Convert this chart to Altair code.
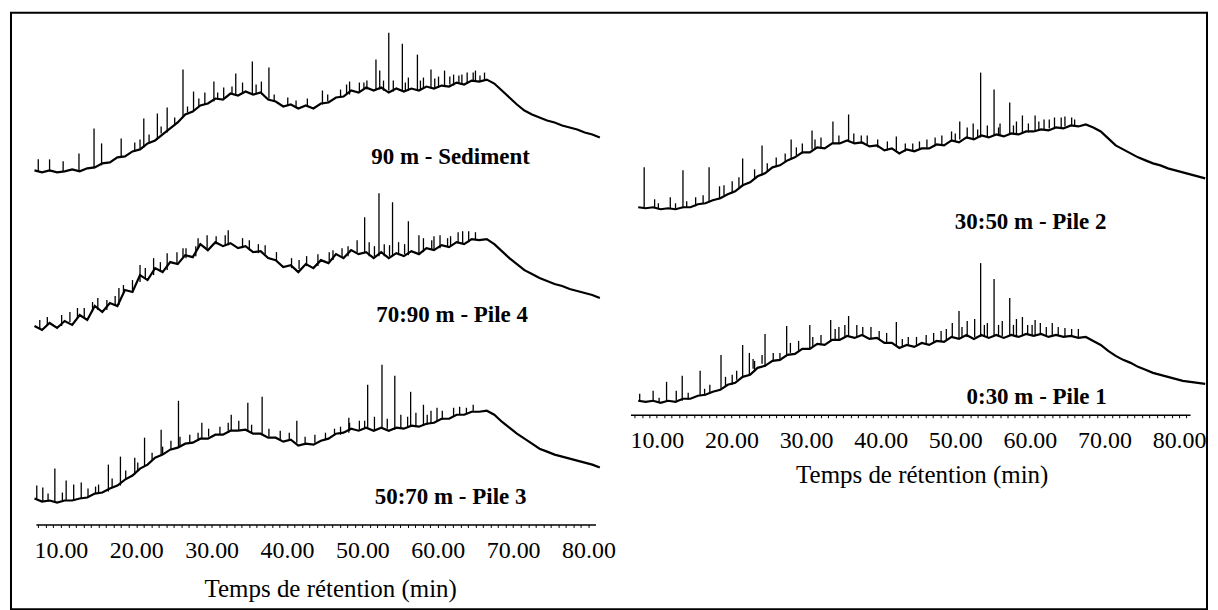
import altair as alt
import pandas as pd

# ---------------- data ----------------
# left column retention-time grid (min)
left_t = [6.5 + i for i in range(76)]
sed_v = [2, 0, 2, 0, 1, 3, 1, 4, 5, 9, 10, 15, 16, 21, 23, 29, 32, 38, 44, 50,
         58, 61, 67, 69, 74, 73, 79, 77, 81, 78, 80, 73, 71, 66, 68, 64, 67, 64, 69, 70,
         75, 76, 82, 80, 85, 82, 85, 80, 84, 81, 84, 82, 86, 84, 87, 86, 90, 88, 92, 91,
         93, 89, 82, 75, 68, 62, 58, 55, 52, 50, 47, 45, 43, 40, 38, 35]
p4_v = [4, 0, 7, 2, 9, 5, 15, 10, 24, 18, 27, 24, 40, 38, 55, 50, 62, 58, 68, 66,
        75, 73, 86, 80, 88, 84, 87, 82, 84, 78, 79, 72, 70, 63, 65, 58, 66, 62, 70, 67,
        76, 72, 80, 76, 78, 72, 78, 72, 77, 74, 79, 76, 82, 80, 85, 83, 88, 86, 91, 90,
        91, 86, 79, 72, 66, 60, 56, 52, 49, 46, 44, 41, 39, 37, 35, 32]
p3_v = [4, 1, 2, 0, 2, 2, 4, 5, 9, 10, 14, 17, 23, 27, 34, 38, 45, 48, 53, 55,
        59, 60, 64, 64, 68, 68, 72, 72, 73, 69, 69, 65, 65, 61, 63, 57, 59, 58, 62, 64,
        69, 70, 74, 72, 75, 72, 75, 72, 75, 74, 77, 76, 79, 80, 84, 84, 88, 88, 91, 91,
        92, 88, 81, 75, 69, 64, 59, 54, 51, 48, 46, 44, 42, 40, 38, 35]

# right column retention-time grid (min)
right_t = [7.5 + i for i in range(77)]
p2_v = [2, 1, 2, 0, 1, 0, 2, 2, 5, 6, 9, 11, 15, 18, 24, 27, 33, 36, 42, 44,
        49, 52, 57, 57, 62, 61, 66, 66, 69, 66, 67, 63, 64, 59, 61, 56, 60, 58, 61, 61,
        65, 64, 69, 67, 72, 70, 74, 72, 75, 73, 76, 75, 78, 78, 80, 79, 82, 81, 84, 83,
        85, 82, 78, 71, 64, 60, 56, 52, 49, 46, 44, 41, 39, 37, 35, 33, 31]
p1_v = [2, 1, 2, 0, 2, 1, 4, 4, 7, 8, 11, 13, 18, 20, 26, 28, 35, 37, 42, 43,
        48, 49, 54, 54, 59, 58, 63, 63, 67, 65, 68, 64, 65, 60, 60, 55, 58, 56, 60, 58,
        62, 61, 66, 64, 68, 64, 68, 65, 68, 65, 68, 66, 69, 67, 69, 66, 68, 66, 67, 65,
        66, 62, 58, 52, 47, 43, 40, 36, 33, 30, 28, 26, 24, 22, 21, 20, 19]

# peaks: retention time, apex, foot  (major peaks, then small noise peaks)
sed_pk_t = [7.0, 8.5, 10.3, 12.4, 14.4, 15.4, 18.0, 21.0, 22.8, 24.1, 26.2, 27.6, 30.3, 33.2, 35.4,
            36.6, 37.6, 44.7, 48.3, 50.6, 51.8, 52.3, 53.5, 55.3, 57.3, 59.1, 60.9, 62.8, 65.0, 65.6,
            19.8, 25.1, 29.1, 31.6, 34.1, 40.1, 47.1, 49.6, 54.1, 56.1, 58.1, 60.1, 62.1, 63.9,
            20.5, 21.7, 23.3, 26.8, 28.3, 30.8, 32.7, 35.9, 38.3, 41.2, 42.7, 45.4, 47.9, 50.2,
            52.8, 55.7, 57.7, 59.6, 61.6, 63.2, 64.7, 66.2]
sed_pk_top = [13, 13, 11, 19, 44, 29, 34, 54, 59, 65, 103, 81, 91, 99, 111,
              91, 105, 82, 91, 92, 113, 102, 140, 129, 118, 103, 102, 97, 102, 97,
              30, 55, 80, 85, 90, 75, 83, 90, 92, 95, 95, 96, 98, 100,
              33, 38, 46, 66, 74, 80, 86, 88, 78, 72, 74, 78, 88, 90,
              92, 90, 92, 94, 96, 98, 100, 100]
sed_pk_base = [1, 1, 1, 2, 4, 7, 15, 25, 33, 40, 55, 62, 71, 78, 79,
               79, 74, 68, 78, 83, 83, 83, 82, 82, 83, 84, 86, 89, 91, 91,
               21, 47, 68, 74, 79, 67, 75, 81, 81, 82, 84, 85, 87, 89,
               24, 30, 39, 60, 66, 73, 78, 79, 71, 65, 66, 71, 79, 84,
               82, 82, 83, 85, 88, 89, 92, 93]

p4_pk_t = [14.9, 17.7, 19.5, 20.5, 22.3, 24.1, 26.6, 29.4, 32.2, 35.0, 37.1, 49.3, 50.3, 52.2, 54.0,
           56.1, 57.5, 59.5, 61.3, 63.3,
           10.1, 13.1, 16.1, 25.4, 27.9, 34.1, 40.6, 44.1, 46.1, 48.1, 50.9, 52.9, 54.8, 58.1, 60.3, 64.1,
           7.2, 8.2, 11.2, 12.2, 14.2, 17.2, 18.3, 21.2, 23.2, 26.2, 28.2, 30.6, 31.8, 36.2, 38.6,
           41.6, 42.6, 45.6, 47.3, 51.6, 53.6, 55.6, 59.2, 61.7, 62.7, 65.0]
p4_pk_top = [32, 42, 50, 65, 72, 77, 82, 95, 100, 90, 85, 90, 113, 137, 128,
             109, 95, 94, 92, 99,
             15, 22, 30, 78, 84, 92, 72, 76, 80, 84, 88, 86, 88, 92, 95, 99,
             10, 13, 18, 22, 28, 34, 45, 62, 68, 82, 92, 94, 95, 86, 78,
             70, 74, 78, 82, 84, 85, 86, 90, 94, 98, 98]
p4_pk_base = [20, 25, 38, 48, 55, 60, 72, 82, 85, 80, 76, 78, 77, 74, 74,
              75, 77, 80, 84, 87,
              4, 12, 20, 66, 74, 82, 62, 64, 70, 74, 74, 74, 75, 78, 82, 88,
              2, 5, 8, 12, 20, 25, 37, 52, 58, 73, 82, 86, 85, 77, 69,
              61, 64, 69, 73, 74, 74, 76, 81, 85, 87, 91]

p3_pk_t = [6.8, 7.6, 9.2, 10.7, 11.7, 12.7, 15.0, 16.3, 17.9, 19.8, 21.1, 23.3, 25.6, 28.7, 32.6,
           34.8, 36.7, 41.3, 48.2, 50.7, 52.6, 54.3, 56.4, 58.1, 59.9, 63.8,
           13.6, 18.6, 22.1, 24.6, 27.1, 31.1, 33.6, 39.1, 45.1, 47.1, 49.6, 51.6, 55.1, 57.1, 59.1, 62.1,
           8.3, 10.2, 14.6, 16.8, 20.2, 23.5, 25.8, 28.2, 29.6, 32.2, 35.3, 37.6, 40.3, 42.4,
           43.7, 46.3, 48.3, 50.3, 53.3, 56.0, 58.6, 60.6, 62.9, 64.7]
p3_pk_top = [17, 15, 34, 22, 18, 20, 18, 38, 46, 45, 65, 73, 102, 80, 88,
             100, 106, 82, 85, 118, 138, 127, 111, 98, 95, 95,
             14, 32, 50, 62, 68, 76, 82, 72, 70, 76, 82, 86, 88, 90, 92, 95,
             9, 10, 16, 24, 40, 56, 66, 70, 74, 80, 78, 74, 70, 66,
             68, 74, 80, 82, 84, 86, 88, 92, 96, 98]
p3_pk_base = [3, 1, 1, 2, 2, 4, 9, 11, 17, 28, 36, 47, 55, 64, 72,
              72, 69, 60, 70, 74, 74, 73, 76, 77, 81, 89,
              6, 23, 42, 53, 59, 68, 72, 63, 63, 68, 73, 72, 75, 77, 79, 86,
              1, 2, 9, 15, 32, 48, 56, 62, 66, 72, 70, 66, 62, 58,
              60, 67, 72, 74, 74, 76, 78, 83, 88, 91]

p2_pk_t = [8.3, 9.7, 11.8, 13.5, 15.2, 17.0, 18.4, 21.5, 24.1, 28.0, 30.8, 33.6, 35.7, 42.1, 50.6,
           53.4, 55.2, 57.3, 59.0, 60.7, 64.7,
           20.1, 23.1, 26.0, 29.5, 32.0, 38.2, 44.3, 46.2, 48.2, 49.5, 51.6, 52.4, 54.3, 56.0, 58.2,
           61.9, 63.3, 66.0,
           10.2, 12.5, 14.0, 16.2, 19.0, 21.0, 24.8, 27.2, 28.7, 31.2, 34.4, 36.4, 37.4, 39.6,
           40.9, 43.3, 45.2, 47.3, 50.0, 53.0, 55.8, 57.8, 59.8, 61.2, 62.6, 64.2, 65.6]
p2_pk_top = [42, 10, 12, 39, 12, 42, 23, 51, 64, 70, 79, 88, 95, 73, 88,
             137, 120, 107, 94, 94, 93,
             28, 40, 52, 66, 72, 74, 66, 70, 74, 78, 82, 86, 84, 86, 88, 90, 92, 90,
             6, 6, 8, 14, 24, 32, 46, 56, 62, 70, 74, 76, 74, 70,
             68, 66, 68, 72, 76, 80, 82, 84, 86, 88, 90, 92, 92]
p2_pk_base = [2, 1, 1, 1, 3, 7, 10, 23, 34, 50, 60, 66, 68, 59, 70,
              72, 74, 75, 77, 79, 83,
              16, 30, 43, 56, 62, 65, 58, 62, 65, 68, 71, 71, 73, 74, 76, 80, 82, 84,
              0, 1, 2, 6, 14, 22, 38, 48, 54, 60, 66, 66, 66, 62,
              59, 58, 60, 64, 68, 72, 74, 75, 77, 79, 81, 82, 84]

p1_pk_t = [7.7, 9.5, 11.3, 12.6, 13.4, 15.8, 17.1, 18.6, 21.5, 22.4, 24.5, 26.5, 27.4, 30.5, 33.3,
           35.7, 42.1, 50.5, 53.4, 55.2, 57.3, 59.0, 60.7, 64.7,
           20.1, 23.1, 25.6, 29.0, 32.0, 34.4, 36.8, 38.7, 43.7, 46.1, 48.1, 49.6, 51.6, 52.6, 54.3,
           56.3, 58.2, 61.4, 63.0,
           10.3, 14.2, 16.4, 19.2, 20.7, 22.9, 24.1, 27.9, 30.9, 33.9, 35.2, 37.6, 39.8, 40.8,
           42.9, 44.8, 47.1, 48.8, 50.9, 53.9, 55.8, 57.8, 59.7, 60.3, 62.2, 63.8, 65.6, 66.5]
p1_pk_top = [9, 12, 21, 12, 27, 32, 18, 48, 58, 50, 69, 50, 77, 78, 83,
             87, 81, 92, 140, 124, 105, 86, 83, 75,
             28, 42, 50, 62, 68, 76, 78, 76, 66, 68, 72, 80, 82, 84, 80, 82, 84, 80, 80,
             5, 10, 14, 26, 32, 44, 48, 60, 66, 74, 78, 76, 72, 70,
             64, 66, 70, 74, 76, 78, 78, 78, 78, 78, 76, 76, 74, 74]
p1_pk_base = [2, 1, 1, 2, 2, 7, 9, 13, 25, 28, 36, 43, 47, 55, 62,
              66, 58, 65, 66, 67, 67, 68, 68, 66,
              18, 31, 42, 51, 58, 64, 66, 65, 57, 59, 62, 65, 66, 66, 66, 67, 67, 68, 67,
              0, 3, 7, 17, 23, 34, 39, 50, 57, 63, 66, 67, 63, 60,
              56, 57, 61, 63, 66, 66, 66, 67, 68, 68, 67, 67, 66, 66]

# sample names and where they are written (retention time, level)
names = ["90 m - Sediment", "70:90 m - Pile 4", "50:70 m - Pile 3", "30:50 m - Pile 2", "0:30 m - Pile 1"]
name_t = [61.7, 61.9, 61.7, 60.1, 60.9]
name_v = [15, 15, 6, -13, 6]

left_ticks = list(range(7, 81))
right_ticks = list(range(7, 82))
AXIS_TITLE = "Temps de rétention (min)"

FONT = "Liberation Serif"


def x_axis(vals, offset, title_pad, title_x):
    return alt.Axis(
        values=vals,
        labelExpr="datum.value % 10 === 0 ? format(datum.value, '.2f') : ''",
        orient="bottom", offset=offset, grid=False,
        tickSize=3, tickColor="black", tickWidth=1,
        domainColor="black", domainWidth=1.4,
        labelFont=FONT, labelFontSize=24, labelColor="black", labelPadding=11,
        labelOverlap=False, labelFlush=False,
        title=AXIS_TITLE, titleFont=FONT, titleFontSize=25, titleFontWeight="normal",
        titleColor="black", titlePadding=title_pad, titleX=title_x,
    )


def trace(t, v, pk_t, pk_top, pk_base, name, nt, nv, xdom, xrng, yrng, axis):
    line_df = pd.DataFrame({"t": t, "v": v})
    pk_df = pd.DataFrame({"t": pk_t, "top": pk_top, "base": pk_base})
    lab_df = pd.DataFrame({"t": [nt], "v": [nv], "txt": [name]})
    xs = alt.Scale(domain=xdom, range=xrng, nice=False, zero=False)
    ys = alt.Scale(domain=[0, 140], range=yrng, nice=False, zero=False)
    xe = alt.X("t:Q", scale=xs, axis=axis)
    line = alt.Chart(line_df).mark_line(color="black", strokeWidth=2.2).encode(
        x=xe, y=alt.Y("v:Q", scale=ys, axis=None))
    peaks = alt.Chart(pk_df).mark_rule(color="black", strokeWidth=1.3).encode(
        x=xe, y=alt.Y("top:Q", scale=ys, axis=None), y2="base:Q")
    lab = alt.Chart(lab_df).mark_text(font=FONT, fontSize=23, fontWeight="bold",
                                      align="center", baseline="middle", color="black").encode(
        x=xe, y=alt.Y("v:Q", scale=ys, axis=None), text="txt:N")
    return alt.layer(line, peaks, lab)


LX = [6.69, 80.93]
LR = [25, 586]
RX = [6.46, 81.47]
RR = [621, 1182]
H = 598

g1 = trace(left_t, sed_v, sed_pk_t, sed_pk_top, sed_pk_base, names[0], name_t[0], name_v[0],
           LX, LR, [160, 20], None)
g2 = trace(left_t, p4_v, p4_pk_t, p4_pk_top, p4_pk_base, names[1], name_t[1], name_v[1],
           LX, LR, [318, 178], None)
g3 = trace(left_t, p3_v, p3_pk_t, p3_pk_top, p3_pk_base, names[2], name_t[2], name_v[2],
           LX, LR, [491, 351], x_axis(left_ticks, -(H - 513), 14, 320))
g4 = trace(right_t, p2_v, p2_pk_t, p2_pk_top, p2_pk_base, names[3], name_t[3], name_v[3],
           RX, RR, [197, 57], None)
g5 = trace(right_t, p1_v, p1_pk_t, p1_pk_top, p1_pk_base, names[4], name_t[4], name_v[4],
           RX, RR, [391, 251], x_axis(right_ticks, -(H - 403), 10, 913))

chart = alt.layer(g1, g2, g3, g4, g5).resolve_scale(
    x="independent", y="independent"
).properties(
    width=1199, height=H,
    padding={"left": 3, "top": 4, "right": 0, "bottom": 0},
    background="white",
).configure_view(stroke="black", strokeWidth=2)

chart.save("out.html", embed_options={"renderer": "svg", "actions": False})
